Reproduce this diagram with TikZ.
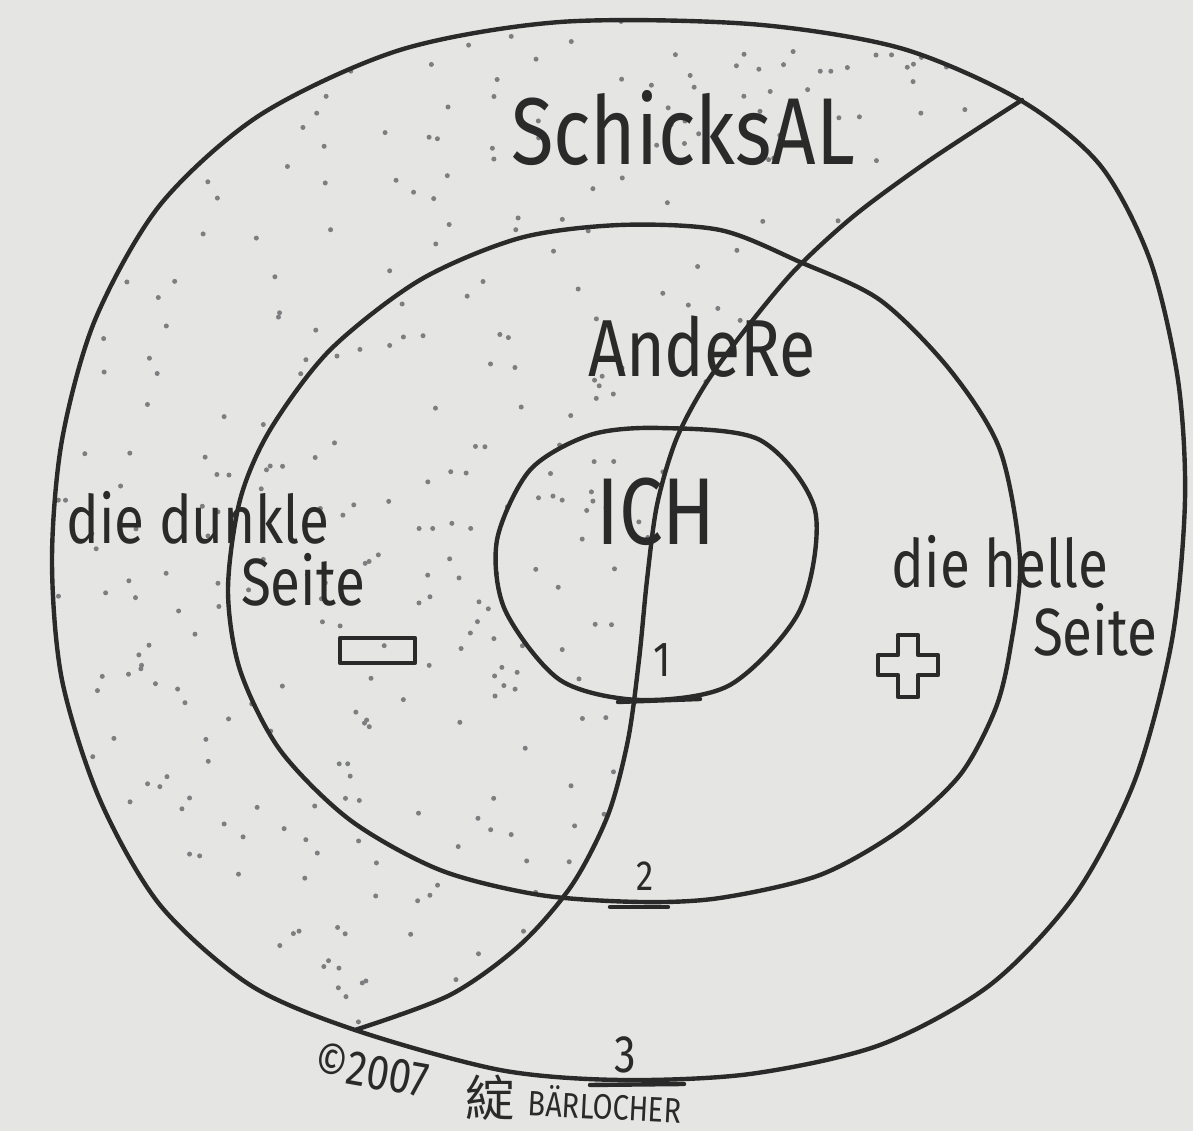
\documentclass[tikz,border=0pt]{standalone}
\usepackage{fontspec}
\setmainfont{Fira Sans}
\newfontfamily\hand[FakeStretch=0.82]{Fira Sans}
\newfontfamily\cjk{Noto Sans CJK SC}
\usetikzlibrary{calc}
\definecolor{paper}{HTML}{E5E6E3}
\definecolor{ink}{HTML}{2A2A2A}
\definecolor{stipple}{HTML}{7C7E80}

\tikzset{
  ring/.style={draw=ink,line width=1.25pt,line cap=round,line join=round},
  hand/.style={text=ink,inner sep=0pt,font=\hand\fontsize{#1}{#1}\selectfont},
  signbox/.style={draw=ink,line width=1.2pt,line join=round},
}

\begin{document}
\begin{tikzpicture}[x=0.01cm,y=-0.01cm]
\useasboundingbox (0,0) rectangle (1193,1131);
\fill[paper] (0,0) rectangle (1193,1131);

%% points of the dividing line
\coordinate (d1) at (1022,100);
\coordinate (d2) at (930,160);
\coordinate (d3) at (855,215);
\coordinate (d4) at (795,270);
\coordinate (d5) at (745,330);
\coordinate (d6) at (705,385);
\coordinate (d7) at (676,440);
\coordinate (d8) at (657,505);
\coordinate (d9) at (647,580);
\coordinate (d10) at (639,660);
\coordinate (d11) at (628,740);
\coordinate (d12) at (608,815);
\coordinate (d13) at (572,885);
\coordinate (d14) at (520,945);
\coordinate (d15) at (450,995);
\coordinate (d16) at (355,1030);

%% stipple of the dark side
\begin{scope}
  \clip plot[smooth cycle] coordinates {(560,22) (750,24) (900,48) (1020,100)
    (1100,165) (1150,260) (1178,380) (1185,500) (1172,640) (1135,780)
    (1075,895) (990,985) (880,1045) (750,1074) (620,1080) (500,1070)
    (355,1030) (250,985) (160,905) (100,800) (62,680) (52,560) (62,440)
    (95,320) (160,205) (260,115) (400,50)};
  \clip plot[smooth] coordinates {(d1) (d2) (d3) (d4) (d5) (d6) (d7) (d8)
    (d9) (d10) (d11) (d12) (d13) (d14) (d15) (d16)}
    -- (300,1131) -- (0,1131) -- (0,0) -- (1100,0) -- cycle;
  \pgfmathsetseed{2007}
  \foreach \i in {1,...,650}{
    \pgfmathsetmacro\px{40+rnd*990}
    \pgfmathsetmacro\py{20+rnd*1060}
    \fill[stipple] (\px,\py) circle[radius=2.5];
  }
\end{scope}

%% rings
\draw[ring] plot[smooth cycle] coordinates {(560,22) (750,24) (900,48)
  (1020,100) (1100,165) (1150,260) (1178,380) (1185,500) (1172,640)
  (1135,780) (1075,895) (990,985) (880,1045) (750,1074) (620,1080)
  (500,1070) (355,1030) (250,985) (160,905) (100,800) (62,680) (52,560)
  (62,440) (95,320) (160,205) (260,115) (400,50)};
\draw[ring] plot[smooth cycle] coordinates {(620,225) (720,230) (800,262)
  (880,300) (950,370) (1000,450) (1020,560) (1010,650) (995,710)
  (960,775) (900,830) (820,875) (720,898) (640,902) (540,895) (440,870)
  (350,820) (280,750) (240,670) (228,590) (240,500) (270,430) (330,350)
  (420,280) (520,238)};
\draw[ring] plot[smooth cycle] coordinates {(660,428) (760,440) (815,510)
  (800,610) (730,685) (640,700) (560,680) (505,610) (497,540) (530,470)
  (590,435)};
\draw[ring] plot[smooth] coordinates {(d1) (d2) (d3) (d4) (d5) (d6) (d7)
  (d8) (d9) (d10) (d11) (d12) (d13) (d14) (d15) (d16)};

%% doubled strokes at the numbers
\draw[ring] (618,702) -- (700,699);
\draw[ring] (610,907) -- (668,907);
\draw[ring] (590,1085) -- (684,1084);

%% labels
\node[hand=27] (fate) at (683,128) {SchicksAL};
\node[hand=23] (others) at (702,347) {AndeRe};
\node[hand=27] (self) at (656,512) {ICH};
\node[hand=19] (dark1) at (198,518) {die dunkle};
\node[hand=19] (dark2) at (303,580) {Seite};
\node[hand=19] (light1) at (1000,562) {die helle};
\node[hand=19] (light2) at (1095,630) {Seite};
\node[hand=14] (one) at (662,660) {1};
\node[hand=12] (two) at (645,876) {2};
\node[hand=15] (three) at (625,1055) {3};

%% minus and plus
\draw[signbox] (340,638) rectangle (415,663);
\draw[signbox] (898,635) -- (918,635) -- (918,655) -- (938,655) -- (938,675)
  -- (918,675) -- (918,697) -- (898,697) -- (898,675) -- (878,675)
  -- (878,655) -- (898,655) -- cycle;

%% signature
\node[hand=14,rotate=-10] (copy) at (372,1070) {©2007};
\node[text=ink,inner sep=0pt,font=\cjk\fontsize{14}{14}\selectfont] (seal) at (490,1098) {綻};
\node[hand=10,rotate=-3] (name) at (605,1104) {BÄRLOCHER};
\end{tikzpicture}
\end{document}
